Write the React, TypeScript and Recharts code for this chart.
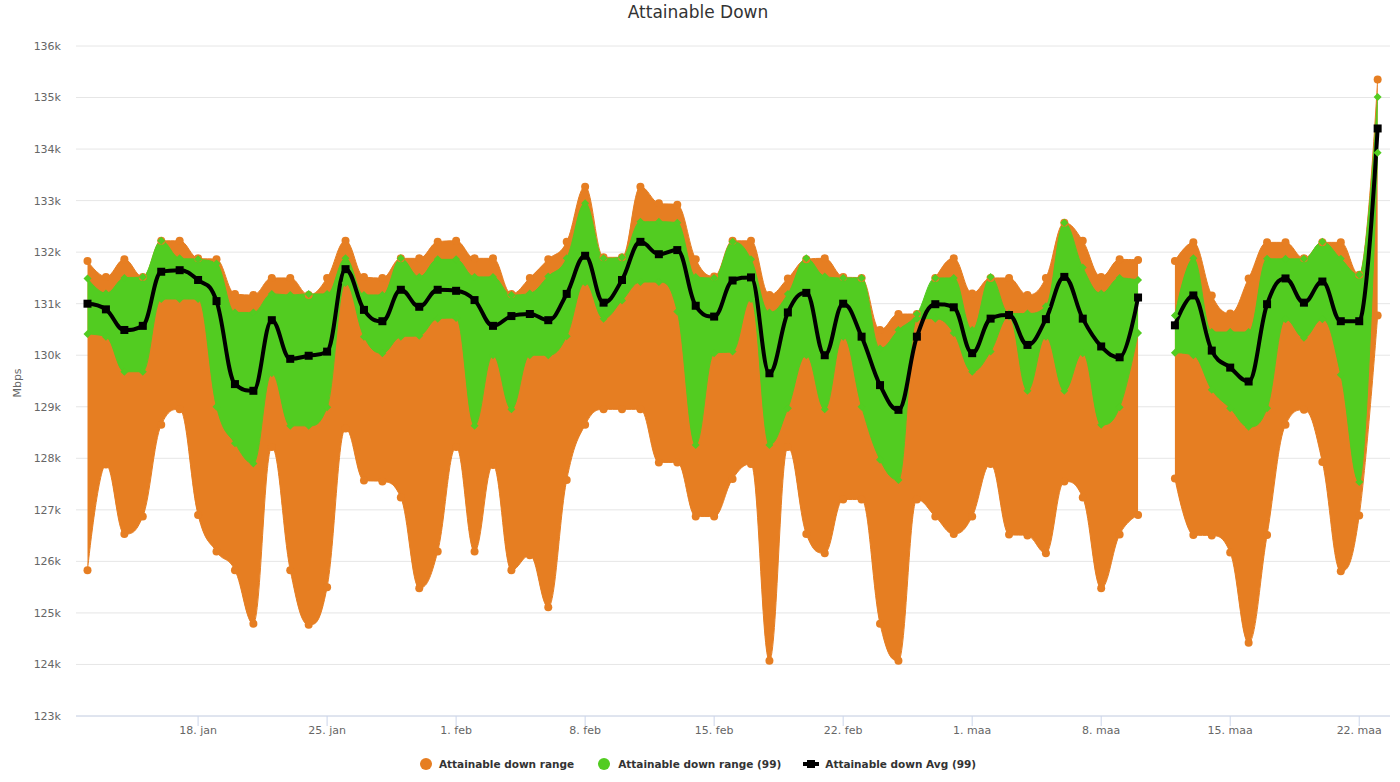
import React from 'react';
import { ComposedChart, Area, Line, XAxis, YAxis, CartesianGrid } from 'recharts';

const START = Date.UTC(2021, 0, 12);
const DAY = 86400000;

// values in k (Mbps / 1000); null = no data that day
const ORANGE_HIGH = [
  131.83, 131.52, 131.86, 131.52, 132.22, 132.22, 131.88, 131.86, 131.19, 131.17, 131.5, 131.5,
  131.17, 131.5, 132.22, 131.52, 131.5, 131.88, 131.88, 132.2, 132.22, 131.88, 131.88, 131.19,
  131.5, 131.86, 132.2, 133.27, 131.9, 131.9, 133.27, 132.95, 132.92, 131.86, 131.53, 132.22,
  132.22, 131.17, 131.49, 131.86, 131.88, 131.52, 131.5, 130.49, 130.8, 130.8, 131.5, 131.88,
  131.2, 131.5, 131.5, 131.17, 131.5, 132.57, 132.22, 131.52, 131.86, 131.85, null,
  131.83, 132.19, 131.16, 130.81, 131.49, 132.19, 132.19, 131.88, 132.19, 132.19, 131.56, 135.35,
];
const ORANGE_LOW = [
  125.83, 127.88, 126.53, 126.87, 128.65, 128.95, 126.9, 126.19, 125.83, 124.79, 128.22, 125.83,
  124.77, 125.5, 128.58, 127.57, 127.55, 127.24, 125.48, 126.19, 128.22, 126.19, 127.87, 125.83,
  126.12, 125.11, 127.58, 128.65, 128.95, 128.95, 128.95, 127.92, 127.92, 126.87, 126.87, 127.6,
  127.89, 124.07, 128.22, 126.53, 126.16, 127.2, 127.2, 124.79, 124.07, 127.2, 126.87, 126.53,
  126.87, 127.89, 126.52, 126.5, 126.16, 127.55, 127.24, 125.48, 126.52, 126.9, null,
  127.61, 126.51, 126.5, 126.17, 124.42, 126.51, 128.65, 128.94, 127.93, 125.81, 126.89, 130.77,
];
const GREEN_HIGH = [
  131.49, 131.2, 131.5, 131.52, 132.22, 131.88, 131.86, 131.78, 130.83, 130.83, 131.19, 131.17,
  131.19, 131.19, 131.88, 131.17, 131.17, 131.88, 131.52, 131.86, 131.86, 131.52, 131.52, 131.17,
  131.2, 131.53, 131.88, 132.95, 131.88, 131.9, 132.59, 132.59, 132.57, 131.52, 131.5, 132.2,
  131.86, 130.83, 131.19, 131.88, 131.53, 131.5, 131.5, 130.13, 130.49, 130.8, 131.5, 131.5,
  130.49, 131.52, 130.81, 130.81, 130.95, 132.57, 131.7, 131.2, 131.5, 131.46, null,
  130.77, 131.88, 130.45, 130.45, 130.45, 131.87, 131.87, 131.87, 132.2, 131.87, 131.56, 135.01,
];
const GREEN_LOW = [
  130.41, 130.36, 129.68, 129.68, 131.09, 131.09, 131.09, 129.0, 128.29, 127.9, 129.65, 128.63,
  128.63, 128.99, 131.4, 130.36, 130.04, 130.36, 130.38, 130.71, 130.72, 128.63, 130.0, 128.95,
  130.0, 130.0, 130.37, 131.41, 130.71, 131.06, 131.42, 131.42, 130.85, 128.26, 130.04, 130.07,
  131.09, 128.26, 128.97, 130.0, 128.95, 130.36, 129.0, 127.97, 127.58, 130.71, 130.71, 130.43,
  129.68, 130.07, 130.75, 129.31, 130.36, 129.31, 130.04, 128.65, 128.99, 130.43, null,
  130.05, 130.0, 129.33, 128.97, 128.61, 128.97, 130.7, 130.34, 130.7, 129.62, 127.54, 133.93,
];
const AVG = [
  131.0, 130.89, 130.49, 130.57, 131.62, 131.65, 131.46, 131.05, 129.44, 129.31, 130.68, 129.93,
  129.99, 130.07, 131.67, 130.88, 130.66, 131.27, 130.94, 131.27, 131.25, 131.07, 130.57, 130.76,
  130.8, 130.68, 131.19, 131.93, 131.02, 131.46, 132.2, 131.96, 132.04, 130.96, 130.75, 131.45,
  131.51, 129.65, 130.83, 131.21, 130.0, 131.0, 130.36, 129.42, 128.94, 130.36, 130.99, 130.93,
  130.04, 130.71, 130.78, 130.2, 130.7, 131.52, 130.71, 130.17, 129.96, 131.12, null,
  130.58, 131.16, 130.09, 129.76, 129.49, 130.99, 131.49, 131.02, 131.43, 130.66, 130.66, 134.4,
];

const X_TICKS = ['2021-01-18', '2021-01-25', '2021-02-01', '2021-02-08', '2021-02-15', '2021-02-22',
  '2021-03-01', '2021-03-08', '2021-03-15', '2021-03-22'].map((s) => Date.parse(s + 'T00:00:00Z'));
const MONTHS = ['jan', 'feb', 'maa', 'apr', 'mei', 'jun', 'jul', 'aug', 'sep', 'okt', 'nov', 'dec'];
const Y_TICKS = [123000, 124000, 125000, 126000, 127000, 128000, 129000, 130000, 131000, 132000, 133000, 134000, 135000, 136000];

const ORANGE = '#E67E22';
const GREEN = '#52CC21';
const FONT = '"DejaVu Sans", sans-serif';

const k = (v: number | null) => (v == null ? null : Math.round(v * 1000));

const data = AVG.map((a, i) => ({
  t: START + i * DAY,
  orange: ORANGE_LOW[i] == null ? null : [k(ORANGE_LOW[i]), k(ORANGE_HIGH[i])],
  green: GREEN_LOW[i] == null ? null : [k(GREEN_LOW[i]), k(GREEN_HIGH[i])],
  oLow: k(ORANGE_LOW[i]),
  gLow: k(GREEN_LOW[i]),
  avg: k(a),
}));

// spline with the same control point rule as Highcharts (smoothing 1.5)
function hcSpline(context: any) {
  return {
    _line: NaN as number,
    _pts: [] as number[][],
    areaStart() { this._line = 0; },
    areaEnd() { this._line = NaN; },
    lineStart() { this._pts = []; },
    point(x: number, y: number) { this._pts.push([+x, +y]); },
    lineEnd() {
      const p = this._pts;
      const n = p.length;
      if (n) {
        if (this._line) context.lineTo(p[0][0], p[0][1]);
        else context.moveTo(p[0][0], p[0][1]);
        const L: number[][] = [];
        const R: number[][] = [];
        const s = 1.5;
        const den = s + 1;
        for (let i = 0; i < n; i++) {
          const [x, y] = p[i];
          if (i === 0 || i === n - 1) { L[i] = [x, y]; R[i] = [x, y]; continue; }
          const [lx, ly] = p[i - 1];
          const [nx, ny] = p[i + 1];
          const lcx = (s * x + lx) / den;
          let lcy = (s * y + ly) / den;
          const rcx = (s * x + nx) / den;
          let rcy = (s * y + ny) / den;
          if (rcx !== lcx) {
            const c = ((rcy - lcy) * (rcx - x)) / (rcx - lcx) + y - rcy;
            lcy += c;
            rcy += c;
          }
          if (lcy > ly && lcy > y) { lcy = Math.max(ly, y); rcy = 2 * y - lcy; }
          else if (lcy < ly && lcy < y) { lcy = Math.min(ly, y); rcy = 2 * y - lcy; }
          if (rcy > ny && rcy > y) { rcy = Math.max(ny, y); lcy = 2 * y - rcy; }
          else if (rcy < ny && rcy < y) { rcy = Math.min(ny, y); lcy = 2 * y - rcy; }
          L[i] = [lcx, lcy];
          R[i] = [rcx, rcy];
        }
        for (let i = 1; i < n; i++) {
          context.bezierCurveTo(R[i - 1][0], R[i - 1][1], L[i][0], L[i][1], p[i][0], p[i][1]);
        }
      }
      if (this._line || (this._line !== 0 && n === 1)) context.closePath();
      this._line = 1 - this._line;
    },
  };
}

function fmtDate(t: number) {
  const d = new Date(t);
  return `${d.getUTCDate()}. ${MONTHS[d.getUTCMonth()]}`;
}

const circleDot = (prefix: string) => (p: any) => {
  if (p.cx == null || p.cy == null || p.value == null) return <g key={`${prefix}${p.index}`} />;
  return <circle key={`${prefix}${p.index}`} cx={p.cx} cy={p.cy} r={4} fill={ORANGE} />;
};

const diamondDot = (prefix: string) => (p: any) => {
  if (p.cx == null || p.cy == null || p.value == null) return <g key={`${prefix}${p.index}`} />;
  const { cx, cy } = p;
  return <path key={`${prefix}${p.index}`} d={`M${cx},${cy - 4}L${cx + 4},${cy}L${cx},${cy + 4}L${cx - 4},${cy}Z`} fill={GREEN} />;
};

const squareDot = (p: any) => {
  if (p.cx == null || p.cy == null || p.value == null) return <g key={`s${p.index}`} />;
  return <rect key={`s${p.index}`} x={p.cx - 4} y={p.cy - 4} width={8} height={8} fill="#000" />;
};

export default function App() {
  return (
    <div style={{ position: 'relative', width: 1400, height: 782, fontFamily: FONT, background: '#fff' }}>
      <style>{'body{margin:0}'}</style>
      <div style={{ position: 'absolute', top: 2, left: 0, width: 1396, textAlign: 'center', fontSize: 17, color: '#333' }}>
        Attainable Down
      </div>
      <div style={{ position: 'absolute', left: 17, top: 383, transform: 'translate(-50%, -50%) rotate(-90deg)', fontSize: 11, color: '#666' }}>
        Mbps
      </div>
      <ComposedChart width={1400} height={782} data={data} margin={{ top: 46, right: 10, bottom: 36, left: 0 }}>
        <CartesianGrid vertical={false} stroke="#e6e6e6" />
        <XAxis
          dataKey="t"
          type="number"
          domain={[START - 0.624 * DAY, START + 70.67 * DAY]}
          ticks={X_TICKS}
          tickFormatter={fmtDate}
          tick={{ fill: '#666', fontSize: 11, fontFamily: FONT }}
          tickLine={{ stroke: '#ccd6eb' }}
          axisLine={{ stroke: '#ccd6eb' }}
          tickSize={10}
          tickMargin={0}
          height={30}
          allowDataOverflow
        />
        <YAxis
          domain={[123000, 136000]}
          ticks={Y_TICKS}
          tickFormatter={(v: number) => `${v / 1000}k`}
          tick={{ fill: '#666', fontSize: 11, fontFamily: FONT }}
          axisLine={false}
          tickLine={false}
          tickMargin={9}
          width={76}
          allowDataOverflow
        />
        <Area dataKey="orange" type={hcSpline as any} stroke={ORANGE} strokeWidth={1} fill={ORANGE} fillOpacity={1}
          dot={circleDot('ot')} activeDot={false} isAnimationActive={false} />
        <Line dataKey="oLow" type={hcSpline as any} stroke="none" dot={circleDot('ol')} activeDot={false}
          legendType="none" isAnimationActive={false} />
        <Area dataKey="green" type={hcSpline as any} stroke={GREEN} strokeWidth={1} fill={GREEN} fillOpacity={1}
          dot={diamondDot('gt')} activeDot={false} isAnimationActive={false} />
        <Line dataKey="gLow" type={hcSpline as any} stroke="none" dot={diamondDot('gl')} activeDot={false}
          legendType="none" isAnimationActive={false} />
        <Line dataKey="avg" type={hcSpline as any} stroke="#000" strokeWidth={4} dot={squareDot} activeDot={false}
          isAnimationActive={false} />
      </ComposedChart>
      <div style={{ position: 'absolute', top: 755, left: 0, width: 1396, display: 'flex', justifyContent: 'center',
        alignItems: 'center', fontSize: 10.5, fontWeight: 'bold', color: '#333', height: 18 }}>
        <span style={{ display: 'inline-block', width: 12, height: 12, borderRadius: 6, background: ORANGE, marginRight: 7 }} />
        <span style={{ marginRight: 24 }}>Attainable down range</span>
        <span style={{ display: 'inline-block', width: 12, height: 12, borderRadius: 6, background: GREEN, marginRight: 8 }} />
        <span style={{ marginRight: 22 }}>Attainable down range (99)</span>
        <svg width={16} height={10} style={{ marginRight: 6 }}>
          <line x1={0} y1={5} x2={16} y2={5} stroke="#000" strokeWidth={4} />
          <rect x={4} y={1} width={8} height={8} fill="#000" />
        </svg>
        <span>Attainable down Avg (99)</span>
      </div>
    </div>
  );
}
